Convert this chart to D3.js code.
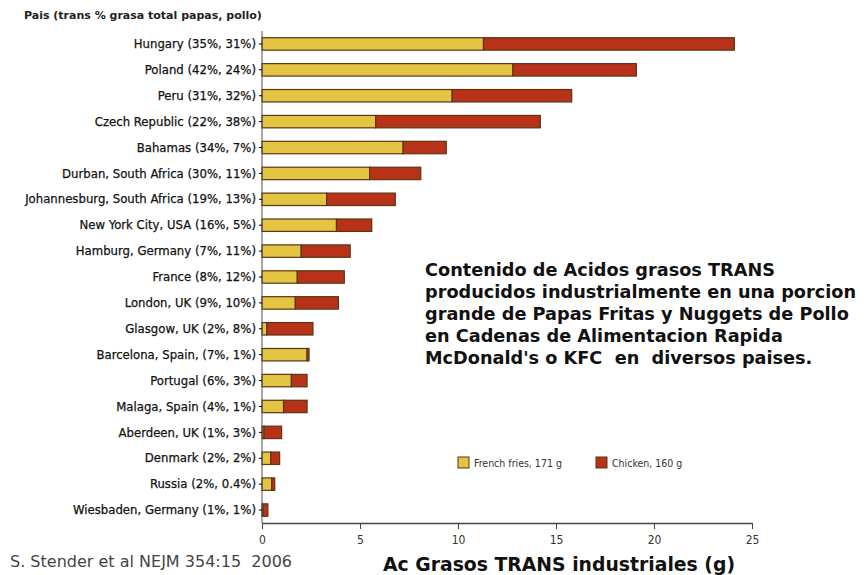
<!DOCTYPE html>
<html>
<head>
<meta charset="utf-8">
<script src="https://cdn.jsdelivr.net/npm/d3@7"></script>
<style>
  body { margin: 0; background: #fff; }
  svg { display: block; }
</style>
</head>
<body>
<div id="chart"></div>
<script>
// data (grams of industrial trans fat per meal)
var places = ["Hungary (35%, 31%)", "Poland (42%, 24%)", "Peru (31%, 32%)",
  "Czech Republic (22%, 38%)", "Bahamas (34%, 7%)", "Durban, South Africa (30%, 11%)",
  "Johannesburg, South Africa (19%, 13%)", "New York City, USA (16%, 5%)",
  "Hamburg, Germany (7%, 11%)", "France (8%, 12%)", "London, UK (9%, 10%)",
  "Glasgow, UK (2%, 8%)", "Barcelona, Spain, (7%, 1%)", "Portugal (6%, 3%)",
  "Malaga, Spain (4%, 1%)", "Aberdeen, UK (1%, 3%)", "Denmark (2%, 2%)",
  "Russia (2%, 0.4%)", "Wiesbaden, Germany (1%, 1%)"];
var fries   = [11.3, 12.8, 9.7, 5.8, 7.2, 5.5, 3.3, 3.8, 2.0, 1.8, 1.7, 0.25, 2.3, 1.5, 1.1, 0.1, 0.45, 0.5, 0.05];
var chicken = [12.8, 6.3, 6.1, 8.4, 2.2, 2.6, 3.5, 1.8, 2.5, 2.4, 2.2, 2.35, 0.1, 0.8, 1.2, 0.9, 0.45, 0.15, 0.25];
var xTicks = [0, 5, 10, 15, 20, 25];
var series = ["French fries, 171 g", "Chicken, 160 g"];
var colors = ["#e3c443", "#b8321a"];
var noteLines = ["Contenido de Acidos grasos TRANS",
  "producidos industrialmente en una porcion",
  "grande de Papas Fritas y Nuggets de Pollo",
  "en Cadenas de Alimentacion Rapida",
  "McDonald's o KFC  en  diversos paises."];

var width = 867, height = 575;
var svg = d3.select("#chart").append("svg")
  .attr("width", width).attr("height", height);

var x = d3.scaleLinear().domain([0, 25]).range([262, 752]);
var y = d3.scaleBand().domain(places).range([31, 523]).paddingInner(0.52).paddingOuter(0.26);

var rows = places.map(function(p, i) { return {name: p, f: fries[i], c: chicken[i]}; });
var stack = d3.stack().keys(["f", "c"])(rows);

var narrow = "'Liberation Sans Narrow', 'DejaVu Sans Condensed', sans-serif";
var wide = "'DejaVu Sans', Verdana, sans-serif";

// bars
var g = svg.append("g");
g.selectAll("g.layer")
  .data(stack)
  .enter().append("g")
  .attr("class", "layer")
  .attr("fill", function(d, i) { return colors[i]; })
  .selectAll("rect")
  .data(function(d) { return d; })
  .enter().append("rect")
  .attr("x", function(d) { return x(d[0]); })
  .attr("y", function(d) { return y(d.data.name); })
  .attr("width", function(d) { return Math.max(0, x(d[1]) - x(d[0])); })
  .attr("height", y.bandwidth())
  .attr("stroke", "#5b3512")
  .attr("stroke-width", 1.2);

// y axis
var yAxis = svg.append("g")
  .attr("transform", "translate(262,0)")
  .call(d3.axisLeft(y).tickSize(3).tickPadding(3));
yAxis.select(".domain").attr("stroke", "#555").attr("d", "M0,31V523");
yAxis.selectAll("text")
  .attr("font-family", narrow)
  .attr("font-size", 13)
  .attr("fill", "#111")
  .attr("stroke", "#111")
  .attr("stroke-width", 0.25);

// x axis
var xAxis = svg.append("g")
  .attr("transform", "translate(0,523)")
  .call(d3.axisBottom(x).tickValues(xTicks).tickSize(6).tickPadding(6).tickSizeOuter(0));
xAxis.select(".domain").attr("stroke", "#444").attr("stroke-width", 1.5);
xAxis.selectAll("line").attr("stroke", "#444");
xAxis.selectAll("text")
  .attr("font-family", narrow)
  .attr("font-size", 12)
  .attr("fill", "#333");

// title
svg.append("text")
  .attr("x", 24).attr("y", 19)
  .attr("font-family", wide)
  .attr("font-weight", "bold")
  .attr("font-size", 11)
  .attr("fill", "#222")
  .text("Pais (trans % grasa total papas, pollo)");

// annotation
svg.append("text")
  .attr("font-family", wide)
  .attr("font-weight", "bold")
  .attr("font-size", 17.7)
  .attr("fill", "#111")
  .attr("xml:space", "preserve")
  .style("white-space", "pre")
  .selectAll("tspan")
  .data(noteLines)
  .enter().append("tspan")
  .attr("x", 425)
  .attr("y", function(d, i) { return 276 + i * 22; })
  .text(function(d) { return d; });

// legend
var legX = [458, 596];
var leg = svg.append("g").selectAll("g")
  .data(series)
  .enter().append("g")
  .attr("transform", function(d, i) { return "translate(" + legX[i] + ",457)"; });
leg.append("rect")
  .attr("width", 11).attr("height", 11)
  .attr("fill", function(d, i) { return colors[i]; })
  .attr("stroke", "#5b3512");
leg.append("text")
  .attr("x", 16).attr("y", 10)
  .attr("font-family", narrow)
  .attr("font-size", 10.5)
  .attr("fill", "#333")
  .text(function(d) { return d; });

// source and axis title
svg.append("text")
  .attr("x", 10).attr("y", 567)
  .attr("font-family", narrow)
  .attr("font-size", 16)
  .attr("fill", "#444")
  .attr("textLength", 282)
  .attr("lengthAdjust", "spacingAndGlyphs")
  .style("white-space", "pre")
  .text("S. Stender et al NEJM 354:15  2006");

svg.append("text")
  .attr("x", 383).attr("y", 571)
  .attr("font-family", narrow)
  .attr("font-size", 20)
  .attr("font-weight", "bold")
  .attr("fill", "#111")
  .attr("textLength", 352)
  .attr("lengthAdjust", "spacingAndGlyphs")
  .text("Ac Grasos TRANS industriales (g)");
</script>
</body>
</html>
